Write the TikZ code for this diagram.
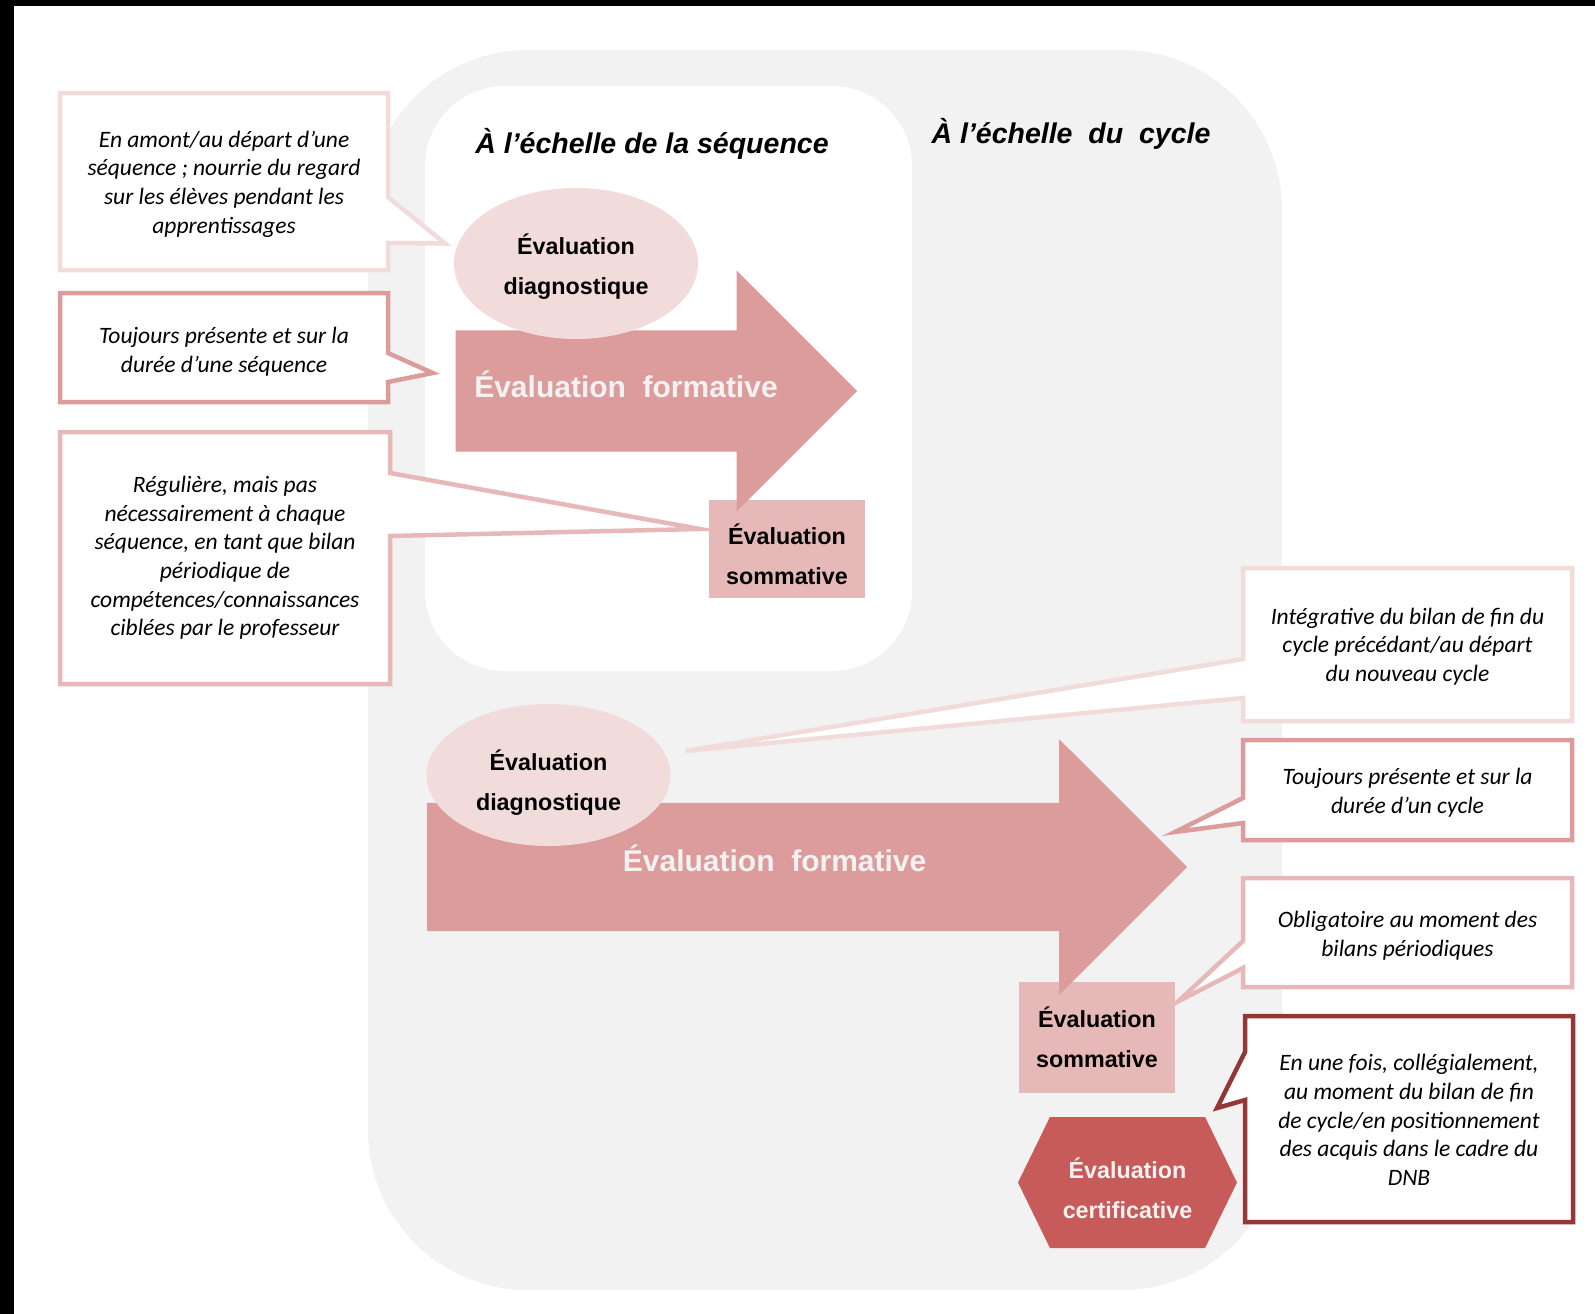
\documentclass[tikz,border=0pt]{standalone}
\usepackage{fontspec}
\setmainfont{Carlito}
\newfontfamily\arial{Liberation Sans}
\usetikzlibrary{shapes.geometric,shapes.arrows,shapes.symbols,backgrounds}

\definecolor{gris}{HTML}{F2F2F2}
\definecolor{rosepale}{HTML}{F2DCDB}
\definecolor{rose}{HTML}{DD9C9C}
\definecolor{rosemoyen}{HTML}{E6B9B8}
\definecolor{rouge}{HTML}{C75B59}
\definecolor{bordeaux}{HTML}{953735}

\begin{document}
\begin{tikzpicture}[x=1pt,y=-1pt,outer sep=0pt]
	\tikzstyle{cadre}=[rectangle,inner sep=0pt]
	\tikzstyle{bulle}=[align=center,inner sep=0pt,font=\itshape\fontsize{23.5}{28.6}\selectfont]
	\tikzstyle{bord}=[fill=white,line width=4.5pt]
	\tikzstyle{etiq}=[align=center,inner sep=0pt,font=\arial\bfseries\fontsize{23.3}{40}\selectfont]
	\tikzstyle{diag}=[ellipse,fill=rosepale,minimum width=244,minimum height=151]
	\tikzstyle{somm}=[rectangle,fill=rosemoyen,minimum width=156]
	\tikzstyle{fleche}=[single arrow,fill=rose,inner xsep=0pt,single arrow tip angle=90,anchor=tail]
	\tikzstyle{forme}=[text=gris,font=\arial\bfseries\fontsize{30}{36}\selectfont]
	\tikzstyle{certif}=[signal,signal to=east and west,signal pointer angle=128,fill=rouge,minimum width=219,minimum height=131]
	\tikzstyle{titre}=[font=\arial\bfseries\itshape\fontsize{28.5}{34}\selectfont]

	\useasboundingbox (0,0) rectangle (1595,1314);
	\fill (0,0) rectangle (1595,6);
	\fill (0,0) rectangle (14,1314);

	\begin{scope}[on background layer]
		\fill[gris,rounded corners=160] (368,50) rectangle (1282,1290);
		\fill[white,rounded corners=80] (425,86) rectangle (912,671);
	\end{scope}

	\node[titre] (tseq) at (652,144) {À l’échelle de la séquence};
	\node[titre] (tcyc) at (1071,134) {À l’échelle\ \ du\ \ cycle};

	\node[somm,minimum height=98] (somm1) at (787,549) {};
	\node[etiq] (tsomm1) at ([yshift=-5]somm1) {Évaluation\\sommative};
	\node[fleche,inner ysep=60.5pt,minimum height=401.5,single arrow head extend=60] (form1) at (455.7,391) {};
	\node[forme] (tform1) at (626,384.5) {Évaluation\ \ formative};
	\node[diag] (diag1) at (576,263.5) {};
	\node[etiq] (tdiag1) at ([yshift=-3]diag1) {Évaluation\\diagnostique};

	\node[somm,minimum height=111] (somm2) at (1097,1037) {};
	\node[etiq] (tsomm2) at (somm2) {Évaluation\\sommative};
	\node[fleche,inner ysep=64pt,minimum height=760,single arrow head extend=63.75] (form2) at (427,867) {};
	\node[forme] (tform2) at (774.6,858.5) {Évaluation\ \ formative};
	\node[diag,minimum height=142] (diag2) at (548.5,775) {};
	\node[etiq] (tdiag2) at ([yshift=-7.5]diag2) {Évaluation\\diagnostique};
	\node[certif] (certif) at (1127.5,1182.5) {};
	\node[etiq,text=gris] (tcertif) at ([yshift=-6]certif) {Évaluation\\certificative};

	\node[cadre,minimum width=328,minimum height=177] (c1) at (224,181.5) {};
	\node[cadre,minimum width=328,minimum height=109] (c2) at (224,347.5) {};
	\node[cadre,minimum width=330,minimum height=252] (c3) at (225,558) {};
	\node[cadre,minimum width=329,minimum height=153] (c4) at (1407.5,644.5) {};
	\node[cadre,minimum width=329,minimum height=100] (c5) at (1407.5,790) {};
	\node[cadre,minimum width=329,minimum height=109] (c6) at (1407.5,932.5) {};
	\node[cadre,minimum width=328,minimum height=206] (c7) at (1409,1119) {};

	\node[bulle] (t1) at ([yshift=-2.5]c1) {En amont/au départ d’une\\séquence ; nourrie du regard\\sur les élèves pendant les\\apprentissages};
	\node[bulle] (t2) at ([yshift=-4]c2) {Toujours présente et sur la\\durée d’une séquence};
	\node[bulle] (t3) at (c3) {Régulière, mais pas\\nécessairement à chaque\\séquence, en tant que bilan\\périodique de\\compétences/connaissances\\ciblées par le professeur};
	\node[bulle] (t4) at ([yshift=-2]c4) {Intégrative du bilan de fin du\\cycle précédant/au départ\\du nouveau cycle};
	\node[bulle] (t5) at ([yshift=-3]c5) {Toujours présente et sur la\\durée d’un cycle};
	\node[bulle] (t6) at ([yshift=-3]c6) {Obligatoire au moment des\\bilans périodiques};
	\node[bulle] (t7) at ([yshift=-1]c7) {En une fois, collégialement,\\au moment du bilan de fin\\de cycle/en positionnement\\des acquis dans le cadre du\\DNB};

	\begin{scope}[on background layer]
		\draw[bord,draw=rosepale] (c1.south west) -- (c1.north west) -- (c1.north east) -- ([yshift=-104]c1.north east) -- ([shift={(-9,-20)}]diag1.west) -- ([yshift=-150]c1.north east) -- (c1.south east) -- cycle;
		\draw[bord,draw=rose] (c2.south west) -- (c2.north west) -- (c2.north east) -- ([yshift=-60]c2.north east) -- ([shift={(-23,-18)}]form1.tail) -- ([yshift=-89]c2.north east) -- (c2.south east) -- cycle;
		\draw[bord,draw=rosemoyen] (c3.south west) -- (c3.north west) -- (c3.north east) -- ([yshift=-41]c3.north east) -- ([shift={(-9,-20)}]somm1.west) -- ([yshift=-104]c3.north east) -- (c3.south east) -- cycle;
		\draw[bord,draw=rosepale] (c4.south east) -- (c4.north east) -- (c4.north west) -- ([yshift=-91]c4.north west) -- ([shift={(15,-24)}]diag2.east) -- ([yshift=-130]c4.north west) -- (c4.south west) -- cycle;
		\draw[bord,draw=rose] (c5.south east) -- (c5.north east) -- (c5.north west) -- ([yshift=-58]c5.north west) -- ([shift={(-12,-35)}]form2.tip) -- ([yshift=-83]c5.north west) -- (c5.south west) -- cycle;
		\draw[bord,draw=rosemoyen] (c6.south east) -- (c6.north east) -- (c6.north west) -- ([yshift=-63]c6.north west) -- ([shift={(3,20)}]somm2.north east) -- ([yshift=-90]c6.north west) -- (c6.south west) -- cycle;
		\draw[bord,draw=bordeaux] (c7.south east) -- (c7.north east) -- (c7.north west) -- ([yshift=-36]c7.north west) -- ([shift={(89.5,-9)}]certif.north) -- ([yshift=-84]c7.north west) -- (c7.south west) -- cycle;
	\end{scope}
\end{tikzpicture}
\end{document}
